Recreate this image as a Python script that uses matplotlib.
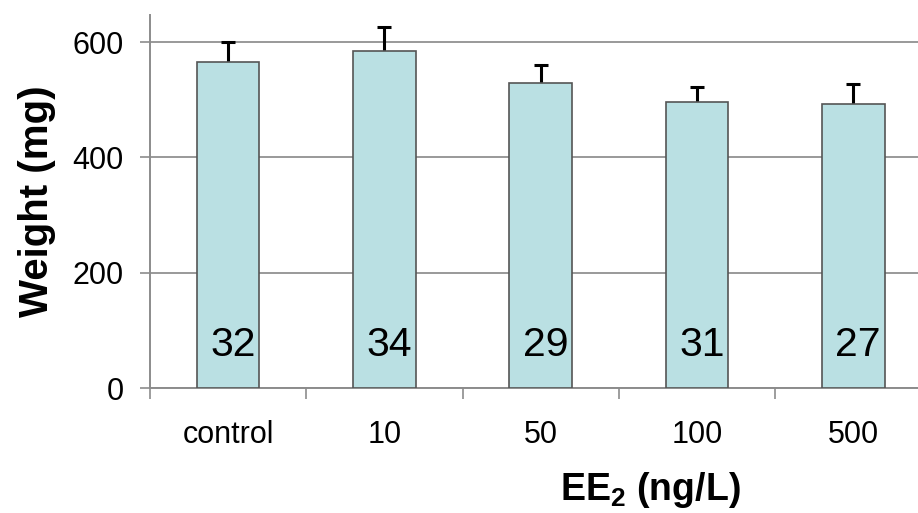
import matplotlib
matplotlib.use("Agg")
import matplotlib.pyplot as plt
import numpy as np

# group means, upper error bars and sample sizes
groups = ["control", "10", "50", "100", "500"]
weight = [565, 585, 529, 496, 493]
weight_err = [35, 41, 31, 27, 35]
n_fish = [32, 34, 29, 31, 27]

plt.rcParams['font.family'] = ['Liberation Sans', 'DejaVu Sans']
plt.rcParams['mathtext.fontset'] = 'custom'
plt.rcParams['mathtext.rm'] = 'Liberation Sans'
plt.rcParams['mathtext.bf'] = 'Liberation Sans:bold'

bar_col = '#bae0e3'
axis_col = '#8c8c8c'

fig = plt.figure(figsize=(9.18, 5.13), dpi=100)
ax = fig.add_axes([0.1634, 0.2431, 0.8513, 0.7277])

x = np.arange(len(groups))
# error bars sit behind the bars so only the upper half shows
ax.errorbar(x, weight, yerr=weight_err, fmt='none',
            ecolor='black', elinewidth=2.2, capsize=4.7, capthick=2.2, zorder=2)
ax.bar(x, weight, width=0.4, color=bar_col, edgecolor='#555555', linewidth=1.2, zorder=3)

for xi, n in zip(x, n_fish):
    ax.text(xi + 0.03, 75, str(n), ha='center', va='center', fontsize=29.5, zorder=5)

ax.set_xlim(-0.5, len(groups) - 0.5)
ax.set_ylim(0, 647)

# category boundaries get the ticks, labels sit in between
ax.set_xticks(np.arange(-0.5, len(groups), 1.0))
ax.set_xticklabels([])
ax.set_xticks(x, minor=True)
ax.set_xticklabels(groups, minor=True, fontsize=22)
ax.tick_params(axis='x', which='major', length=8, width=1.2, color=axis_col, direction='out')
ax.tick_params(axis='x', which='minor', length=0, pad=23)

ax.set_yticks([0, 200, 400, 600])
ax.tick_params(axis='y', length=7, width=1.2, color=axis_col, labelsize=22, pad=12)

ax.grid(axis='y', color='#999999', linewidth=1.4, zorder=0)
for side in ['top', 'right']:
    ax.spines[side].set_visible(False)
for side in ['left', 'bottom']:
    ax.spines[side].set_color(axis_col)
    ax.spines[side].set_linewidth(1.4)

ax.set_ylabel('Weight (mg)', fontsize=29, fontweight='bold', labelpad=12)
fig.text(0.708, 0.045, r'$\mathbf{EE_2}$ (ng/L)', fontsize=27, fontweight='bold',
         ha='center', va='center')

fig.savefig('out.png', dpi=100)
